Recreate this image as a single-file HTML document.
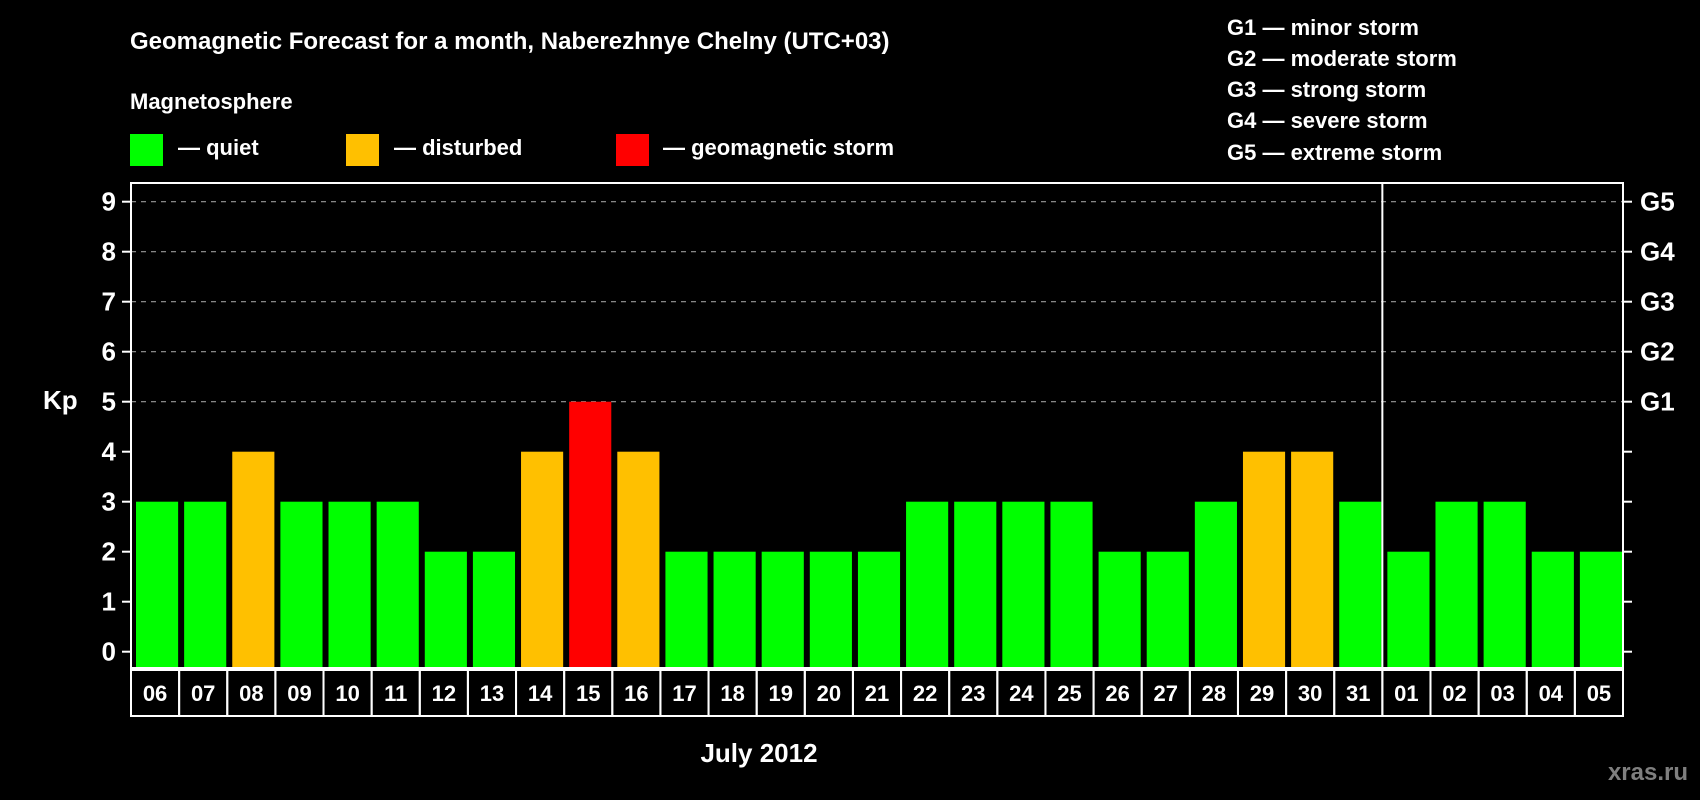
<!DOCTYPE html>
<html><head><meta charset="utf-8"><style>
html,body{margin:0;padding:0;background:#000;}
svg{display:block;font-family:"Liberation Sans",Arial,sans-serif;font-weight:bold;}
</style></head><body>
<svg id="chart" width="1700" height="800" viewBox="0 0 1700 800">
<rect width="1700" height="800" fill="#000"/>
<text x="130" y="49" fill="#fff" font-size="24">Geomagnetic Forecast for a month, Naberezhnye Chelny (UTC+03)</text>
<text x="130" y="109" fill="#fff" font-size="22">Magnetosphere</text>
<g>
<rect x="130" y="134" width="33" height="32" fill="#00ff00"/>
<text x="178" y="155" fill="#fff" font-size="22">— quiet</text>
<rect x="346" y="134" width="33" height="32" fill="#ffc000"/>
<text x="394" y="155" fill="#fff" font-size="22">— disturbed</text>
<rect x="616" y="134" width="33" height="32" fill="#ff0000"/>
<text x="663" y="155" fill="#fff" font-size="22">— geomagnetic storm</text>
</g>
<g fill="#fff" font-size="22">
<text x="1227" y="35">G1 — minor storm</text>
<text x="1227" y="66">G2 — moderate storm</text>
<text x="1227" y="97">G3 — strong storm</text>
<text x="1227" y="128">G4 — severe storm</text>
<text x="1227" y="160">G5 — extreme storm</text>
</g>
<text x="43" y="409" fill="#fff" font-size="26">Kp</text>
<text x="759" y="762" fill="#fff" font-size="26" text-anchor="middle">July 2012</text>
<text x="1688" y="780" fill="#7f7f7f" font-size="24" text-anchor="end">xras.ru</text>
<g id="plot"></g>
</svg>
<script>
const days = ["06","07","08","09","10","11","12","13","14","15","16","17","18","19","20","21","22","23","24","25","26","27","28","29","30","31","01","02","03","04","05"];
const kp = [3,3,4,3,3,3,2,2,4,5,4,2,2,2,2,2,3,3,3,3,2,2,3,4,4,3,2,3,3,2,2];
const yTicks = [0,1,2,3,4,5,6,7,8,9];
const gLabels = ["G1","G2","G3","G4","G5"];
const gLevels = [5,6,7,8,9];
const monthBreakIndex = 26;

const NS = "http://www.w3.org/2000/svg";
const plot = document.getElementById("plot");
const L = 131, R = 1623, T = 183, B = 668;
const slot = (R - L) / days.length;
const y = v => 651.7 - 50 * v;
const xs = i => L + i * slot;
function mk(tag, attrs) { const e = document.createElementNS(NS, tag); for (const k in attrs) e.setAttribute(k, attrs[k]); plot.appendChild(e); return e; }

gLevels.forEach((g, j) => {
  const l = mk("line", {x1: L, x2: R, y1: y(g), y2: y(g), stroke: "#999", "stroke-width": 1.2, "stroke-dasharray": "5,5"});
  
  
  const t = mk("text", {x: 1640, y: y(g) + 9, fill: "#fff", "font-size": 26});
  t.textContent = gLabels[j];
  
  
});
yTicks.forEach(v => {
  const tk = mk("line", {x1: 122, x2: L, y1: y(v), y2: y(v), stroke: "#fff", "stroke-width": 2});
  
  
  const tr = mk("line", {x1: R, x2: R + 9, y1: y(v), y2: y(v), stroke: "#fff", "stroke-width": 2});
  
  
  const t = mk("text", {x: 116, y: y(v) + 9, fill: "#fff", "font-size": 26, "text-anchor": "end"});
  t.textContent = v;
  
  
});
kp.forEach((v, i) => {
  const c = v >= 5 ? "#ff0000" : (v >= 4 ? "#ffc000" : "#00ff00");
  const b = mk("rect", {x: xs(i) + 5, y: y(v), width: slot - 6, height: B - y(v), fill: c});
  
  
  const cell = mk("rect", {x: xs(i), y: 670, width: slot, height: 46, fill: "none", stroke: "#fff", "stroke-width": 2});
  
  
  const t = mk("text", {x: xs(i) + slot / 2, y: 701, fill: "#fff", "font-size": 22, "text-anchor": "middle"});
  t.textContent = days[i];
  
  
});
const ml = mk("line", {x1: xs(monthBreakIndex), x2: xs(monthBreakIndex), y1: T, y2: B, stroke: "#fff", "stroke-width": 2});


const frame = mk("rect", {x: L, y: T, width: R - L, height: B - T, fill: "none", stroke: "#fff", "stroke-width": 2});


</script>
</body></html>
